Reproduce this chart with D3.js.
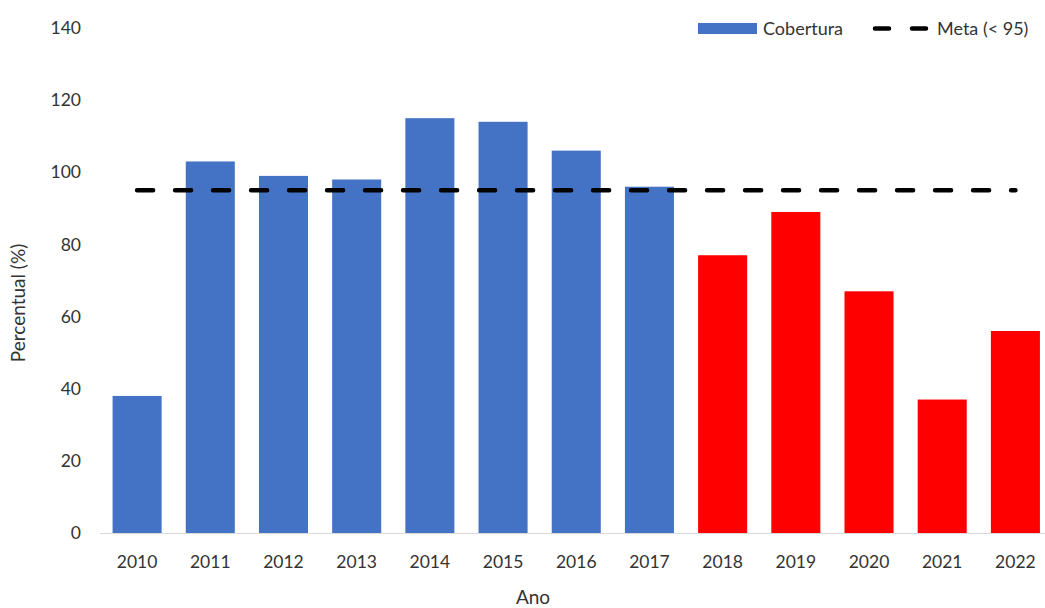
<!DOCTYPE html>
<html>
<head>
<meta charset="utf-8">
<script src="https://cdn.jsdelivr.net/npm/d3@7"></script>
<style>
  body { margin: 0; background: #fff; }
  svg { display: block; font-family: Lato, "Open Sans", sans-serif; }
</style>
</head>
<body>
<svg id="chart"></svg>
<script>
const years = ["2010","2011","2012","2013","2014","2015","2016","2017","2018","2019","2020","2021","2022"]
const cobertura = [38, 103, 99, 98, 115, 114, 106, 96, 77, 89, 67, 37, 56]
const meta = 95
const yTicks = [0, 20, 40, 60, 80, 100, 120, 140]

const width = 1045, height = 608
const svg = d3.select("#chart").attr("width", width).attr("height", height)

// plot area
const x = d3.scaleBand().domain(years).range([100.5, 1052]).paddingInner(0.33).paddingOuter(0.165)
const y = d3.scaleLinear().domain([0, 140]).range([533, 28])

const blue = "#4472c4", red = "#ff0000", textCol = "#333333"

// bars, blue up to 2017, red after
svg.append("g")
    .selectAll("rect")
    .data(years.map((yr, i) => ({ yr: yr, v: cobertura[i] })))
    .enter()
    .append("rect")
    .attr("x", d => x(d.yr))
    .attr("y", d => y(d.v))
    .attr("width", x.bandwidth())
    .attr("height", d => y(0) - y(d.v))
    .attr("fill", d => +d.yr <= 2017 ? blue : red)

// baseline
svg.append("line")
    .attr("x1", 100).attr("x2", 1045)
    .attr("y1", y(0) + 0.5).attr("y2", y(0) + 0.5)
    .attr("stroke", "#d9d9d9").attr("stroke-width", 1)

// meta dashed line
svg.append("line")
    .attr("x1", x(years[0]) + x.bandwidth() / 2)
    .attr("x2", x(years[years.length - 1]) + x.bandwidth() / 2)
    .attr("y1", y(meta)).attr("y2", y(meta))
    .attr("stroke", "#000").attr("stroke-width", 4.5)
    .attr("stroke-linecap", "round")
    .attr("stroke-dasharray", "16 22")

// y tick labels
svg.append("g")
    .selectAll("text")
    .data(yTicks)
    .enter()
    .append("text")
    .attr("x", 81)
    .attr("y", d => y(d))
    .attr("dy", "0.35em")
    .attr("text-anchor", "end")
    .attr("font-size", 17.5)
    .attr("fill", textCol)
    .text(d => d)

// x tick labels
svg.append("g")
    .selectAll("text")
    .data(years)
    .enter()
    .append("text")
    .attr("x", d => x(d) + x.bandwidth() / 2)
    .attr("y", 562)
    .attr("dy", "0.35em")
    .attr("text-anchor", "middle")
    .attr("font-size", 17.5)
    .attr("fill", textCol)
    .text(d => d)

// axis titles
svg.append("text")
    .attr("transform", "translate(18," + 303 + ") rotate(-90)")
    .attr("dy", "0.35em")
    .attr("text-anchor", "middle")
    .attr("font-size", 19)
    .attr("fill", textCol)
    .text("Percentual (%)")

svg.append("text")
    .attr("x", 533).attr("y", 597)
    .attr("dy", "0.35em")
    .attr("text-anchor", "middle")
    .attr("font-size", 19)
    .attr("fill", textCol)
    .text("Ano")

// legend
const leg = svg.append("g")
leg.append("rect").attr("x", 698).attr("y", 23).attr("width", 59).attr("height", 11).attr("fill", blue)
leg.append("text").attr("x", 763).attr("y", 28.5).attr("dy", "0.35em")
    .attr("font-size", 18).attr("fill", textCol).text("Cobertura")
leg.append("line")
    .attr("x1", 875).attr("x2", 928).attr("y1", 28.5).attr("y2", 28.5)
    .attr("stroke", "#000").attr("stroke-width", 4.5)
    .attr("stroke-linecap", "round")
    .attr("stroke-dasharray", "14 23")
leg.append("text").attr("x", 937).attr("y", 28.5).attr("dy", "0.35em")
    .attr("font-size", 18).attr("fill", textCol).text("Meta (< 95)")
</script>
</body>
</html>
